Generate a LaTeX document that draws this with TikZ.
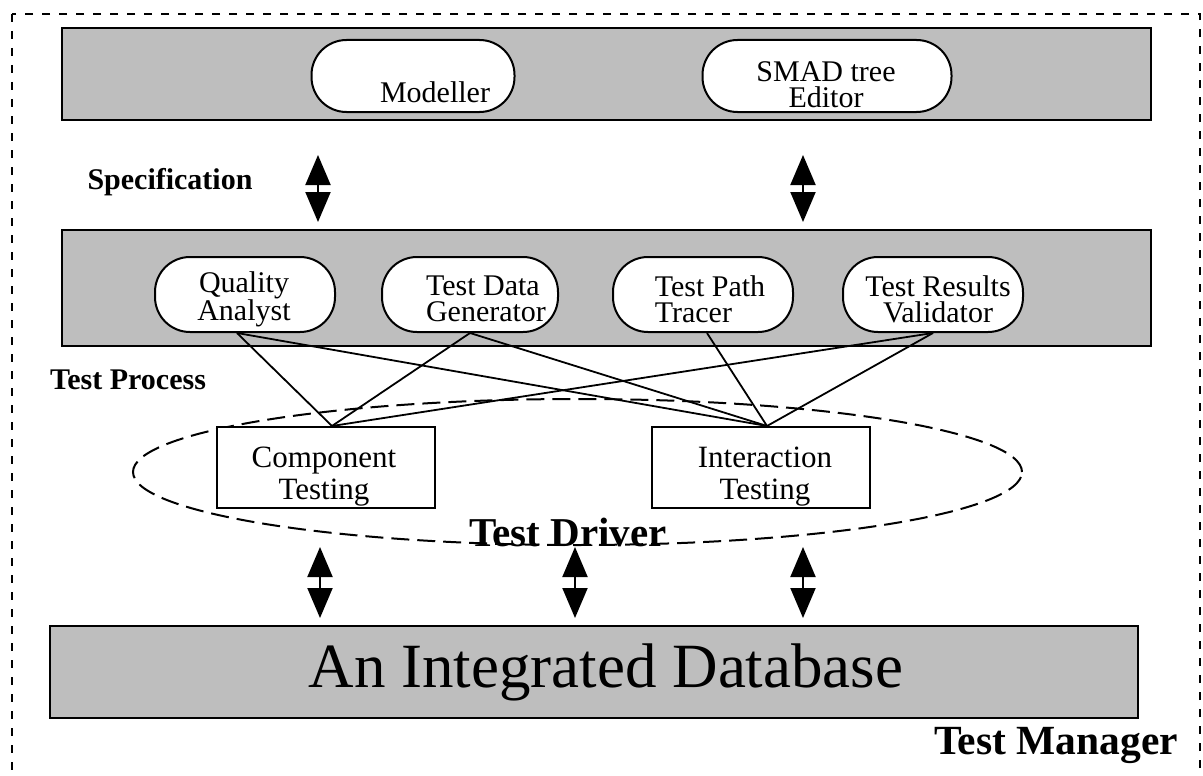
\documentclass[tikz,border=0pt]{standalone}
\usepackage{fontspec}
\setmainfont{Liberation Serif}
\usetikzlibrary{arrows.meta,calc}
\definecolor{panelgray}{RGB}{190,190,190}
\begin{document}
\begin{tikzpicture}[x=1pt,y=-1pt,
  panel/.style={draw, line width=2.2pt, fill=panelgray},
  pill/.style={draw, line width=2pt, fill=white, rectangle, rounded corners=35pt, inner sep=0pt},
  pilltext/.style={font=\fontsize{30}{26}\selectfont, align=center, inner sep=0pt},
  testbox/.style={draw, line width=2pt, fill=white, inner sep=0pt},
  label/.style={font=\fontsize{30}{32}\selectfont\bfseries, inner sep=0pt},
  link/.style={line width=1.8pt},
  dblarrow/.style={line width=2pt, {Triangle[length=30pt,width=25pt]}-{Triangle[length=30pt,width=25pt]}},
  ]
\useasboundingbox (0,0) rectangle (1203,776);
\clip (0,0) rectangle (1203,776);

% outer frame of the test manager
\draw[line width=2.2pt, dash pattern=on 8pt off 9pt] (12,14) rectangle (1200,800);

% specification layer
\node[panel, minimum width=1089pt, minimum height=92pt, inner sep=0pt] (spec) at (606.5,74) {};
\node[pill, minimum width=203pt, minimum height=72pt] (modeller) at (413,76) {};
\node[pilltext] (modeller-t) at (435,92) {Modeller};
\node[pill, minimum width=249pt, minimum height=72pt] (smad) at (827,76) {};
\node[pilltext] (smad-t) at (826,85) {SMAD tree\\Editor};
\node[label] (speclabel) at (170,182) {Specification};

% test process layer
\node[panel, minimum width=1089pt, minimum height=116pt, inner sep=0pt] (proc) at (606.5,288) {};
\node[pill, minimum width=180pt, minimum height=75pt] (qa) at (245,294.5) {};
\node[pilltext] (qa-t) at (244,299) {Quality\\Analyst};
\node[pill, minimum width=176pt, minimum height=75pt] (tdg) at (470,294.5) {};
\node[pilltext, align=left] (tdg-t) at (486,299) {Test Data\\Generator};
\node[pill, minimum width=180pt, minimum height=75pt] (tpt) at (703,294.5) {};
\node[pilltext, align=left] (tpt-t) at (710,299) {Test Path\\Tracer};
\node[pill, minimum width=180pt, minimum height=75pt] (trv) at (933,294.5) {};
\node[pilltext] (trv-t) at (938,299) {Test Results\\Validator};
\node[label] (proclabel) at (128,380) {Test Process};

% test driver
\draw[line width=2pt, dash pattern=on 18pt off 8pt] (577.5,472) ellipse [x radius=444.5pt, y radius=73pt];
\node[testbox, minimum width=218pt, minimum height=81pt] (comp) at (326,467.5) {};
\node[pilltext, font=\fontsize{31}{32}\selectfont] (comp-t) at (324,477) {Component\\Testing};
\node[testbox, minimum width=218pt, minimum height=81pt] (inter) at (761,467.5) {};
\node[pilltext, font=\fontsize{31}{32}\selectfont] (inter-t) at (765,477) {Interaction\\Testing};
\node[font=\fontsize{41}{44}\selectfont\bfseries, inner sep=0pt] (driverlabel) at (568,532) {Test Driver};

% links between the tools and the testing kinds
\coordinate (compin) at ($(comp.north)+(6,0)$);
\coordinate (interin) at ($(inter.north)+(6,0)$);
\coordinate (qaout) at ($(qa.south)+(-8,0)$);
\coordinate (tdgout) at (tdg.south);
\coordinate (tptout) at ($(tpt.south)+(4,0)$);
\coordinate (trvout) at (trv.south);
\draw[link] (qaout) -- (compin);
\draw[link] (qaout) -- (interin);
\draw[link] (tdgout) -- (compin);
\draw[link] (tdgout) -- (interin);
\draw[link] (tptout) -- (interin);
\draw[link] (trvout) -- (compin);
\draw[link] (trvout) -- (interin);

% database
\node[panel, minimum width=1088pt, minimum height=92pt, inner sep=0pt] (db) at (594,672) {};
\node[font=\fontsize{63}{66}\selectfont, inner sep=0pt] (db-t) at (606,672) {An Integrated Database};
\node[font=\fontsize{41.5}{44}\selectfont\bfseries, inner sep=0pt] (mgrlabel) at (1056,745) {Test Manager};

% exchanges between the layers
\coordinate (a1t) at (318,155);  \coordinate (a1b) at (318,222);
\coordinate (a2t) at (803,155);  \coordinate (a2b) at (803,222);
\coordinate (b1t) at (320,547);  \coordinate (b1b) at (320,618);
\coordinate (b2t) at (575,547);  \coordinate (b2b) at (575,618);
\coordinate (b3t) at (803,547);  \coordinate (b3b) at (803,618);
\draw[dblarrow] (a1t) -- (a1b);
\draw[dblarrow] (a2t) -- (a2b);
\draw[dblarrow] (b1t) -- (b1b);
\draw[dblarrow] (b2t) -- (b2b);
\draw[dblarrow] (b3t) -- (b3b);
\end{tikzpicture}
\end{document}
